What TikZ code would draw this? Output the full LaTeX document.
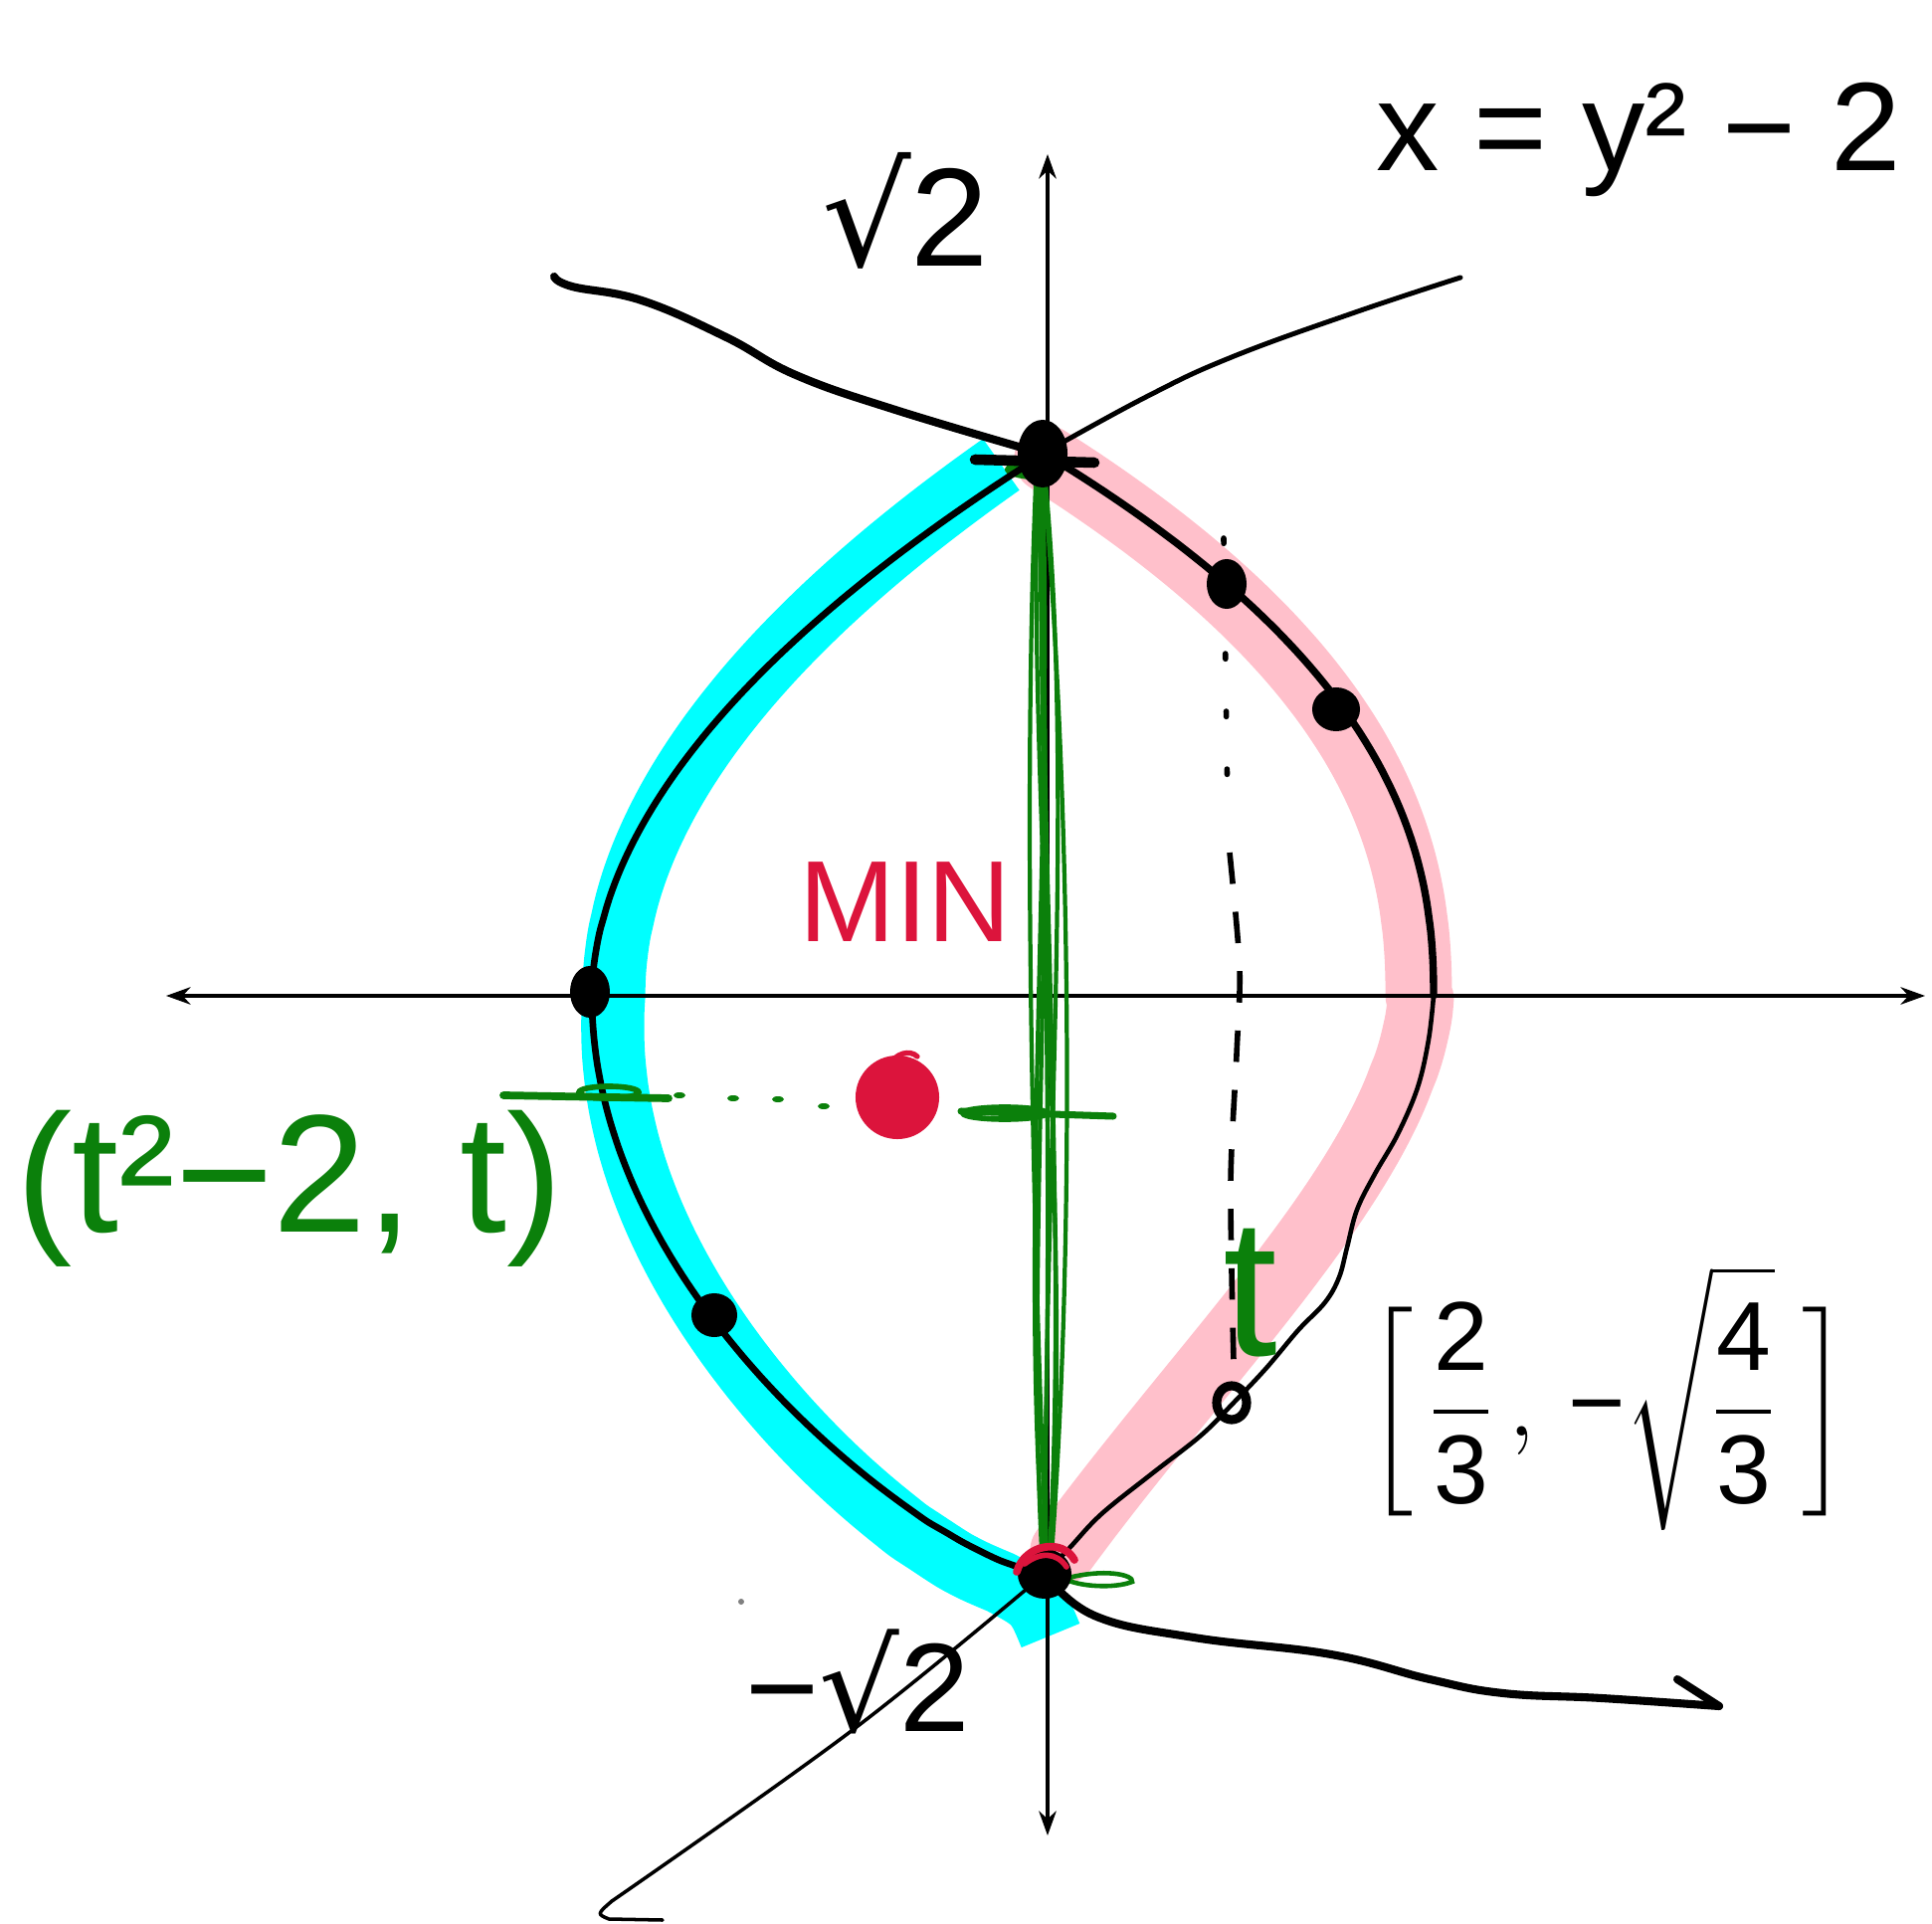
\RequirePackage{fix-cm}
\documentclass[tikz,border=0pt]{standalone}
\usepackage{amsmath}
\usepackage{fontspec}
\setmainfont{Liberation Sans}
\newfontfamily\symfont{DejaVu Sans}
\usetikzlibrary{arrows.meta}
\definecolor{hlcyan}{HTML}{00FFFF}
\definecolor{hlpink}{HTML}{FFC0CB}
\definecolor{pgreen}{HTML}{0B800B}
\definecolor{pred}{HTML}{DC143C}
\tikzset{
  axisline/.style={line width=0.9pt},
  curve/.style={line width=1.9pt, line cap=round, line join=round},
  thincurve/.style={line width=1pt, line cap=round, line join=round},
  thickcurve/.style={line width=2.3pt, line cap=round, line join=round},
  band/.style={line width=#1, line join=round},
  gstroke/.style={pgreen, line width=1.2pt, line cap=round},
  lbl/.style={inner sep=0pt, font=\fontsize{#1}{#1}\selectfont},
}
\begin{document}
\begin{tikzpicture}[x=0.01cm,y=-0.01cm]
\useasboundingbox (0,0) rectangle (1942,1934);

% key points
\coordinate (T) at (1048,456);
\coordinate (B) at (1050,1582);
\coordinate (L) at (593,997);
\coordinate (ytop) at (1053,155);
\coordinate (ybot) at (1053,1845);
\coordinate (xl) at (167,1001);
\coordinate (xr) at (1935,1001);

% highlight bands
\draw[hlcyan, band=18pt, line cap=butt]
  plot[domain=0.02:1, samples=50, smooth] ({1050-455*(1-(1-\x)^1.9)+22-50*(1-\x)^1.5}, {1001-545*(1-\x)})
  -- plot[domain=0.005:0.99, samples=60, smooth] ({1052-457*(cos(90*\x))^0.69+22-42*\x}, {1001+581*\x+15*\x^3})
  .. controls (1042,1610) .. (1056,1644);
\draw[hlpink, band=19pt, line cap=round]
  plot[domain=0.01:1, samples=50, smooth] ({1050+391*(1-(1-\x)^2.3)-15+9*(1-\x)^3}, {1001-545*(1-\x)})
  -- plot[domain=0.005:0.96, samples=50, smooth] ({1052+376*(1-\x^(1.6-0.5*\x))}, {1001+581*\x});

% axes
\draw[axisline, {Stealth[length=7pt,width=5pt]}-{Stealth[length=7pt,width=5pt]}] (ybot) -- (ytop);
\draw[axisline, {Stealth[length=7pt,width=5pt]}-{Stealth[length=7pt,width=5pt]}] (xl) -- (xr);

% green strokes along the y axis
\foreach \a/\b/\c/\d in {-26/-14/-3/2, -12/22/5/4, 16/-24/-6/-2, 24/28/3/6, -6/8/0/-3, 30/-8/4/2, -20/26/-2/5, 8/-30/2/0}
  \draw[gstroke] ({1045+\c},465) .. controls ({1053+\a},800) and ({1053+\b},1250) .. ({1050+\d},1576);
\fill[pgreen] (1040,472) ellipse [x radius=0.3cm, y radius=0.1cm];

% black curves of the lens
\draw[curve]
  plot[domain=0:1, samples=50, smooth] ({1050-455*(1-(1-\x)^1.9)}, {1001-545*(1-\x)})
  -- plot[domain=0.005:0.995, samples=60, smooth] ({1052-457*(cos(90*\x))^0.69}, {1001+581*\x}) -- (B);
\draw[line width=2.1pt, line cap=round] plot[domain=0:1, samples=50, smooth] ({1050+391*(1-(1-\x)^2.3)}, {1001-545*(1-\x)});
\draw[line width=1.3pt, line cap=round] plot[smooth, tension=0.6] coordinates {(1441,1001) (1436,1045) (1425,1093) (1405,1140) (1382,1180) (1364,1216) (1354,1254) (1346,1284) (1332,1309) (1305,1337) (1273,1375) (1240,1410) (1207,1443) (1157,1482) (1107,1522) (1075,1556) (B)};

% outer branches of the parabola
\draw[thickcurve] plot[smooth, tension=0.7] coordinates {(T) (900,412) (800,377) (730,339) (645,302) (575,288) (557,278)};
\draw[line width=1.4pt, line cap=round] plot[smooth, tension=0.7] coordinates {(T) (1152,399) (1238,359) (1362,314) (1468,279)};
\draw[thickcurve] plot[smooth, tension=0.7] coordinates {(B) (1100,1624) (1200,1646) (1338,1663) (1437,1688) (1511,1702) (1610,1707) (1728,1715)};
\coordinate (tip) at (1728,1715);
\draw[thickcurve] (tip) -- (1686,1688);
\draw[thincurve] plot[smooth, tension=0.6] coordinates {(B) (857,1739) (615,1911)};
\draw[thincurve] (615,1911) .. controls (600,1924) .. (612,1929) -- (666,1930);

% dashed vertical line
\draw[line width=1.6pt, dash pattern=on 1.5pt off 15pt, line cap=round] (1230,541) -- (1234,815);
\draw[line width=1.6pt, dash pattern=on 9pt off 8pt] plot[smooth] coordinates {(1236,857) (1246,972) (1243,1060) (1237,1190) (1240,1368)};

% green marks
\draw[pgreen, line width=2.2pt, line cap=round] (506,1101) -- (672,1104);
\draw[pgreen, line width=1.6pt] (612,1098) ellipse [x radius=0.3cm, y radius=0.06cm];
\foreach \p in {(683,1101),(737,1104),(782,1105),(828,1112)}
  \fill[pgreen] \p ellipse [x radius=0.06cm, y radius=0.03cm];
\draw[pgreen, line width=2pt, line cap=round] (966,1117) -- (1119,1122);
\draw[pgreen, line width=1.6pt] (1010,1119) ellipse [x radius=0.42cm, y radius=0.06cm];
\draw[pgreen, line width=1.3pt] (1070,1587) .. controls (1110,1576) and (1140,1583) .. (1138,1590) .. controls (1120,1597) and (1085,1595) .. (1070,1587);

% dots
\fill (T) ellipse [x radius=0.25cm, y radius=0.34cm];
\draw[line width=3pt, line cap=round] (980,462) -- (1100,465);
\fill (1233,587) ellipse [x radius=0.2cm, y radius=0.25cm];
\fill (1343,713) ellipse [x radius=0.24cm, y radius=0.22cm];
\fill (L) ellipse [x radius=0.2cm, y radius=0.26cm];
\fill (718,1322) ellipse [x radius=0.23cm, y radius=0.22cm];
\draw[line width=2.6pt] (1238,1410) ellipse [x radius=0.15cm, y radius=0.17cm];
\fill (B) ellipse [x radius=0.27cm, y radius=0.25cm];
\draw[pred, line width=2.2pt, line cap=round] (1022,1580) .. controls (1030,1552) and (1068,1546) .. (1080,1568);
\draw[pred, line width=1.6pt, line cap=round] (1030,1572) .. controls (1045,1560) and (1062,1560) .. (1072,1575);
\fill[pred] (902,1103) circle (0.42cm);
\draw[pred, line width=1.5pt, line cap=round] (893,1072) .. controls (900,1058) and (915,1055) .. (922,1062);
\fill[gray] (745,1610) circle (0.03cm);

% labels
\node[lbl=40] (s2) at (910,212) {{\symfont √}2};
\node[lbl=36] (eq) at (1647,140) {x = y² − 2};
\node[lbl=33, text=pred] (min) at (910,907) {MIN};
\node[lbl=36] (ms2) at (862,1690) {−{\symfont √}2};
\node[lbl=48, text=pgreen] (par) at (291,1195) {(t²−2, t)};
\node[lbl=56, text=pgreen] (tt) at (1257,1300) {t};
\node[lbl=28] (pt) at (1616,1405) {$\Big[\,\dfrac{\text{2}}{\text{3}}\,,\,\text{−}\sqrt{\dfrac{\text{4}}{\text{3}}}\;\Big]$};
\end{tikzpicture}
\end{document}
